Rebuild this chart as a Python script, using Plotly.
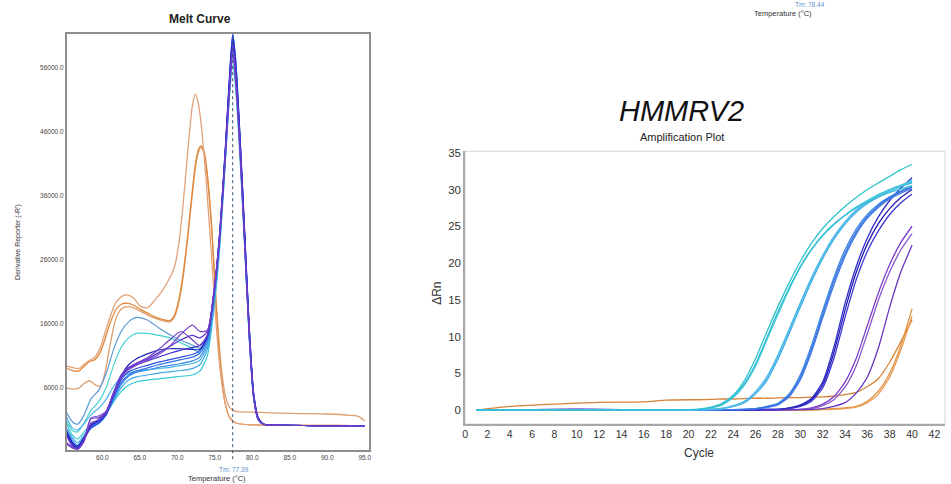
import plotly.graph_objects as go

# ---------------- Melt curve data ----------------
MELT_T = [55.2, 56.0, 56.7, 57.5, 58.5, 59.5, 60.5, 61.5, 62.5, 63.5, 64.5, 66.0, 67.5,
          69.0, 70.5, 72.0, 73.0, 74.0, 74.8, 75.6, 76.4, 77.0, 77.4, 77.8, 78.4, 79.0,
          79.6, 80.2, 80.8, 81.5, 83.0, 88.0, 95.0]

melt_turq_low = [500, -1400, -2000, -1000, 300, 900, 2000, 3800, 5400, 6400, 6900, 7200, 7400, 7600, 7800, 8000, 8600, 11000,
                 17500, 27000, 41000, 52000, 56500, 52500, 41000, 27500, 13500, 4200, 1000, 300, 150, 100, 80]
melt_steel_hump = [2200, 700, 300, 1600, 4300, 5600, 8200, 12000, 14800, 16300, 17000, 16600, 15400, 14300, 13400, 12700, 12200, 14200,
                   19500, 28500, 42500, 53500, 58500, 54000, 42500, 28500, 14500, 4500, 1100, 300, 150, 100, 80]
melt_turq_hump = [900, -700, -900, 400, 2500, 3800, 6000, 9500, 12300, 13800, 14500, 14500, 14200, 13800, 13000, 12200, 11500, 13500,
                  19000, 28500, 42000, 53000, 58000, 53500, 42000, 28000, 14000, 4300, 1000, 300, 150, 100, 80]
melt_sky = [1500, -300, -600, 300, 1800, 2800, 4200, 6200, 7600, 8300, 8600, 8800, 9000, 9200, 9500, 9800, 10300, 12500,
            18500, 28000, 42000, 53000, 59000, 54500, 42500, 28500, 14200, 4400, 1000, 300, 150, 100, 80]
melt_lightblue = [-200, -1800, -2600, -1500, 0, 700, 1900, 4000, 6000, 7200, 7700, 8000, 8300, 8500, 8700, 9000, 9600, 12000,
                  18000, 27500, 41500, 53000, 59500, 55000, 43000, 28500, 14000, 4300, 1000, 300, 150, 100, 80]
melt_blue1 = [-500, -2200, -3000, -1800, -200, 500, 1800, 4300, 6500, 7800, 8400, 8800, 9200, 9500, 9800, 10200, 10800, 13000,
              19000, 28500, 42500, 54500, 61000, 56500, 44000, 29500, 15000, 4800, 1200, 300, 150, 100, 80]
melt_blue2 = [-800, -2500, -3200, -2000, -300, 400, 1700, 4500, 6800, 8000, 8600, 9100, 9600, 10000, 10400, 10800, 11400, 13500,
              19500, 29000, 43000, 55000, 61300, 57000, 44500, 30000, 15500, 5000, 1300, 350, 150, 100, 80]
melt_blue3 = [-1000, -2700, -3300, -2100, -200, 500, 1800, 4700, 7200, 8500, 9000, 9500, 10000, 10400, 10800, 11200, 11800, 14000,
              20000, 29500, 43500, 55500, 61300, 57000, 44500, 30000, 15500, 5000, 1300, 350, 150, 100, 80]
melt_navy = [-800, -2600, -3100, -1900, 200, 900, 2200, 5200, 7800, 9600, 10500, 11300, 11900, 12100, 12100, 12000, 12000, 14000,
             20000, 29500, 43000, 55000, 60500, 56000, 44000, 29500, 15000, 4800, 1200, 300, 150, 100, 80]
melt_indigo = [-1200, -2900, -3400, -2200, 0, 800, 2000, 5000, 7600, 9000, 9600, 10200, 10800, 11400, 11900, 12300, 12600, 14200,
               20000, 29000, 43000, 54500, 60000, 55500, 43500, 29000, 14800, 4700, 1200, 300, 150, 100, 80]
melt_violet = [-1400, -3100, -3500, -2300, 1200, 1300, 2300, 5300, 8000, 9200, 9800, 10500, 11500, 12500, 13500, 14200, 13800, 14800,
               20000, 29000, 42500, 54000, 59500, 55000, 43000, 28800, 14500, 4500, 1100, 300, 150, 100, 80]
melt_purple_hump = [-2500, -3300, -3600, -2400, 1300, 1600, 2300, 5000, 7600, 8800, 9500, 10300, 11200, 12500, 14400, 15800, 14800, 15000,
                    20500, 29000, 42000, 53000, 58000, 53500, 42000, 28000, 14000, 4300, 1000, 300, 150, 100, 80]
melt_purple = [-2800, -3400, -3600, -2500, 500, 1000, 2100, 5100, 7800, 9100, 9800, 10700, 12000, 13500, 14800, 13500, 12600, 14200,
               20000, 28500, 42000, 53500, 59000, 54500, 42500, 28500, 14300, 4400, 1000, 300, 150, 100, 80]

MELT_BUNDLE = [
    (melt_turq_low, "#35C9D6"),
    (melt_steel_hump, "#5B9BD5"),
    (melt_turq_hump, "#45D0D0"),
    (melt_sky, "#4DB7E8"),
    (melt_lightblue, "#3FA9E6"),
    (melt_blue1, "#3A8AE8"),
    (melt_blue2, "#2F6EE6"),
    (melt_blue3, "#2A4FDF"),
    (melt_navy, "#1F24B5"),
    (melt_indigo, "#3A2CCF"),
    (melt_violet, "#5A35D0"),
    (melt_purple_hump, "#7B44CC"),
    (melt_purple, "#6B3BC8"),
]

ORANGE_T = [55.2, 56.0, 56.8, 57.6, 58.3, 59.0, 59.7, 60.4, 61.0, 61.8, 62.6, 63.4, 64.2, 65.0,
            66.0, 67.0, 68.0, 69.0, 69.6, 70.2, 70.8, 71.4, 72.0, 72.4, 72.8, 73.2, 73.6, 74.0,
            74.6, 75.2, 75.8, 76.4, 77.0, 77.8, 80.0, 85.0, 90.0, 93.0, 94.2, 95.0]

melt_orange_tall = [9400, 9200, 9000, 9700, 10300, 10800, 12200, 14800, 17000, 19300, 20300, 20500, 20000, 18800,
                    18500, 19700, 21200, 23200, 24800, 28500, 35000, 43000, 50000, 51900, 50500, 47000, 42000, 36000,
                    26000, 15500, 8000, 3500, 1400, 500, 200, 150, 120, 100, 100, 100]
melt_orange_mid = [9100, 8700, 8600, 9400, 10100, 10400, 11500, 13800, 16000, 18200, 19100, 19200, 18900, 18300,
                   17700, 17100, 16700, 16500, 17300, 19800, 24000, 30000, 36800, 40800, 43200, 43800, 42800, 39500,
                   31000, 18500, 8500, 3500, 1300, 500, 200, 150, 120, 100, 100, 100]
melt_orange_low = [6000, 5800, 5900, 6700, 7100, 6500, 6200, 8600, 12500, 16800, 18400, 18700, 18500, 18000,
                   17400, 16900, 16500, 16300, 17000, 19300, 23500, 29500, 36200, 40300, 42800, 43500, 42500, 39000,
                   30500, 19000, 10000, 4800, 2900, 2300, 2200, 2000, 1900, 1700, 1500, 800]

MELT_ORANGE = [
    (melt_orange_low, "#DDA070"),
    (melt_orange_mid, "#E0893A"),
    (melt_orange_tall, "#E4A27A"),
]

TM_VALUE = 77.39
MELT_XTICKS = [60, 65, 70, 75, 80, 85, 90, 95]
MELT_YTICKS = [6000, 16000, 26000, 36000, 46000, 56000]

# ---------------- Amplification data ----------------
AMP_CYCLES = [1, 4, 8, 12, 16, 18, 20, 21, 22, 23, 24, 25, 26, 27, 28, 29, 30,
              31, 32, 33, 34, 35, 36, 37, 38, 39, 40]

amp_cyan1 = [0, 0, 0, 0, 0, 0, 0.05, 0.15, 0.4, 0.9, 2.0, 4.0, 7.0, 10.6, 14.1, 17.3, 20.2, 22.7, 24.7, 26.3, 27.7, 28.9, 30.0, 30.9, 31.8, 32.7, 33.4]
amp_cyan2 = [0, 0, 0, 0, 0, 0, 0.05, 0.1, 0.3, 0.7, 1.7, 3.4, 6.0, 9.5, 13.0, 16.4, 19.4, 21.8, 23.7, 25.2, 26.5, 27.6, 28.5, 29.3, 30.0, 30.5, 31.0]
amp_cyan3 = [0, 0, 0, 0, 0, 0, 0.05, 0.1, 0.3, 0.8, 1.9, 3.6, 6.3, 9.8, 13.4, 16.6, 19.5, 21.9, 23.8, 25.3, 26.5, 27.5, 28.3, 29.0, 29.6, 30.1, 30.5]
amp_lblue1 = [0, 0, 0, 0, 0, 0, 0, 0.05, 0.1, 0.25, 0.6, 1.2, 2.5, 4.5, 7.5, 11.0, 14.6, 18.0, 21.0, 23.6, 25.6, 27.2, 28.4, 29.3, 30.0, 30.6, 31.1]
amp_lblue2 = [0, 0, 0, 0, 0, 0, 0, 0.05, 0.1, 0.2, 0.5, 1.0, 2.2, 4.0, 6.9, 10.4, 14.0, 17.5, 20.6, 23.2, 25.3, 26.9, 28.1, 29.0, 29.8, 30.4, 30.9]
amp_lblue3 = [0, 0, 0, 0, 0, 0, 0, 0.05, 0.1, 0.2, 0.5, 1.1, 2.3, 4.2, 7.2, 10.7, 14.3, 17.8, 20.8, 23.4, 25.4, 27.0, 28.2, 29.1, 29.9, 30.5, 31.3]
amp_blue1 = [0, 0, 0, 0, 0, 0, 0, 0, 0, 0.05, 0.05, 0.1, 0.2, 0.5, 0.9, 2.2, 4.8, 8.8, 13.5, 18.0, 21.8, 24.6, 26.6, 28.0, 29.0, 29.8, 30.5]
amp_blue2 = [0, 0, 0, 0, 0, 0, 0, 0, 0, 0.05, 0.05, 0.1, 0.2, 0.4, 0.8, 2.0, 4.4, 8.3, 13.0, 17.5, 21.3, 24.2, 26.3, 27.8, 28.9, 29.7, 30.3]
amp_blue3 = [0, 0, 0, 0, 0, 0, 0, 0, 0, 0.05, 0.05, 0.1, 0.15, 0.35, 0.7, 1.8, 4.1, 7.9, 12.5, 17.0, 20.9, 23.9, 26.1, 27.6, 28.7, 29.5, 30.1]
amp_indigo1 = [0, 0, 0, 0, 0, 0, 0, 0, 0, 0, 0, 0.05, 0.05, 0.1, 0.1, 0.3, 0.7, 1.6, 3.8, 8.5, 14.5, 19.5, 23.4, 26.3, 28.5, 30.2, 31.6]
amp_indigo2 = [0, 0, 0, 0, 0, 0, 0, 0, 0, 0, 0, 0.05, 0.05, 0.1, 0.1, 0.25, 0.6, 1.4, 3.4, 7.8, 13.6, 18.7, 22.6, 25.4, 27.4, 28.9, 30.0]
amp_indigo3 = [0, 0, 0, 0, 0, 0, 0, 0, 0, 0, 0, 0, 0.05, 0.05, 0.1, 0.2, 0.5, 1.2, 3.0, 7.0, 12.6, 17.7, 21.6, 24.4, 26.6, 28.2, 29.4]
amp_purple1 = [0, 0, 0.1, 0.1, 0, 0, 0, 0, 0, 0, 0, 0, 0, 0, 0.05, 0.05, 0.1, 0.3, 0.8, 1.8, 3.8, 7.0, 11.5, 16.0, 19.8, 22.8, 25.0]
amp_purple2 = [0, 0, 0.1, 0.1, 0, 0, 0, 0, 0, 0, 0, 0, 0, 0, 0.05, 0.05, 0.1, 0.2, 0.6, 1.4, 3.1, 6.0, 10.4, 15.0, 18.8, 21.8, 24.0]
amp_purple3 = [0, 0, 0.05, 0.05, 0, 0, 0, 0, 0, 0, 0, 0, 0, 0, 0, 0.05, 0.05, 0.1, 0.2, 0.5, 1.0, 2.3, 4.5, 8.5, 14.0, 18.8, 22.4]
amp_orange_drift = [0, 0.5, 0.8, 1.05, 1.1, 1.35, 1.4, 1.4, 1.45, 1.5, 1.5, 1.55, 1.6, 1.6, 1.65, 1.7, 1.7, 1.75, 1.8, 1.9, 2.1, 2.4, 3.2, 4.3, 6.5, 9.3, 12.3]
amp_orange2 = [0, 0, 0, 0, 0, 0, 0, 0, 0, 0, 0, 0, 0, 0, 0, 0, 0, 0.05, 0.1, 0.2, 0.3, 0.5, 1.2, 2.6, 5.0, 8.8, 13.8]
amp_orange3 = [0, 0, 0, 0, 0, 0, 0, 0, 0, 0, 0, 0, 0, 0, 0, 0, 0, 0, 0.05, 0.1, 0.2, 0.4, 1.0, 2.2, 4.5, 8.2, 12.8]

AMP_SERIES = [
    (amp_orange_drift, "#D7843A"),
    (amp_orange2, "#E0923E"),
    (amp_orange3, "#E89A50"),
    (amp_purple1, "#7B3CC9"),
    (amp_purple2, "#8B55CC"),
    (amp_purple3, "#6A34C2"),
    (amp_indigo1, "#2C2FC9"),
    (amp_indigo2, "#2418AE"),
    (amp_indigo3, "#3A36D0"),
    (amp_blue1, "#3A86E2"),
    (amp_blue2, "#3570DC"),
    (amp_blue3, "#3F7AE6"),
    (amp_lblue1, "#45B3E6"),
    (amp_lblue2, "#3AA6E2"),
    (amp_lblue3, "#58BEE8"),
    (amp_cyan1, "#2EC4C8"),
    (amp_cyan2, "#3CCBD6"),
    (amp_cyan3, "#35BBD8"),
]

AMP_XTICKS = list(range(0, 43, 2))
AMP_YTICKS = [0, 5, 10, 15, 20, 25, 30, 35]

# ---------------- Figure ----------------
W, H = 951, 484


def px(x):
    return x / W


def py(y):
    return 1 - y / H


fig = go.Figure()

for vals, col in MELT_ORANGE:
    fig.add_trace(go.Scatter(x=ORANGE_T, y=vals, mode="lines", xaxis="x", yaxis="y",
                             line=dict(color=col, width=1.3, shape="spline", smoothing=0.7),
                             hoverinfo="skip", showlegend=False))
for vals, col in MELT_BUNDLE:
    fig.add_trace(go.Scatter(x=MELT_T, y=vals, mode="lines", xaxis="x", yaxis="y",
                             line=dict(color=col, width=1.2, shape="spline", smoothing=0.7),
                             hoverinfo="skip", showlegend=False))

for vals, col in AMP_SERIES:
    fig.add_trace(go.Scatter(x=AMP_CYCLES, y=vals, mode="lines", xaxis="x2", yaxis="y2",
                             line=dict(color=col, width=1.3, shape="spline", smoothing=0.6),
                             hoverinfo="skip", showlegend=False))

font_family = "Liberation Sans, Arial, sans-serif"

fig.update_layout(
    width=W, height=H,
    margin=dict(l=0, r=0, t=0, b=0),
    paper_bgcolor="white", plot_bgcolor="white",
    font=dict(family=font_family, color="#333333"),
    xaxis=dict(domain=[px(64), px(368)], range=[55.23, 95.53], anchor="y",
               tickvals=MELT_XTICKS, ticktext=[f"{v:.1f}" for v in MELT_XTICKS],
               tickfont=dict(size=6.5, color="#444444"), ticks="", showgrid=False, zeroline=False,
               showline=True, linecolor="#8E8E8E", linewidth=1.5, mirror=True),
    yaxis=dict(domain=[py(450), py(30)], range=[-3770, 61350], anchor="x",
               tickvals=MELT_YTICKS, ticktext=[f"{v:.1f}" for v in MELT_YTICKS],
               tickfont=dict(size=6.5, color="#444444"), ticks="", showgrid=False, zeroline=False,
               showline=True, linecolor="#8E8E8E", linewidth=1.5, mirror=True),
    xaxis2=dict(domain=[px(465), px(948)], range=[0, 42.95], anchor="y2",
                tickvals=AMP_XTICKS, tickfont=dict(size=10.5, color="#333333"), ticks="",
                showgrid=False, zeroline=False, showline=True, linecolor="#A8A8A8", linewidth=1.5),
    yaxis2=dict(domain=[py(423.5), py(148.5)], range=[-1.9, 35.2], anchor="x2",
                tickvals=AMP_YTICKS, tickfont=dict(size=11.5, color="#333333"), ticks="",
                showgrid=False, zeroline=False, showline=True, linecolor="#A8A8A8", linewidth=1.5),
)

# Tm marker line on the melt curve
fig.add_shape(type="line", xref="x", yref="paper", x0=TM_VALUE, x1=TM_VALUE,
              y0=py(459), y1=py(30), line=dict(color="#34506E", width=1, dash="dot"))

# light frame on top/right of the amplification plot
fig.add_shape(type="rect", xref="paper", yref="paper", x0=px(465), x1=px(948),
              y0=py(423.5), y1=py(148.5), line=dict(color="#D6D6D6", width=1), layer="below")

ann = [
    dict(text="<b>Melt Curve</b>", x=px(198), y=py(15), font=dict(size=12, color="#222222")),
    dict(text="Derivative Reporter (-R')", x=px(15), y=py(240), textangle=-90,
         font=dict(size=7, color="#333333")),
    dict(text="Temperature (°C)", x=px(215), y=py(478), font=dict(size=7.5, color="#333333")),
    dict(text="Tm: 77.39", x=px(232), y=py(469), font=dict(size=6.5, color="#5A8FD0")),
    dict(text="Tm: 78.44", x=px(812), y=py(0.5), font=dict(size=6.5, color="#5A8FD0")),
    dict(text="Temperature (°C)", x=px(785), y=py(9.5), font=dict(size=7.5, color="#333333")),
    dict(text="<i>HMMRV2</i>", x=px(683), y=py(108), font=dict(size=29, color="#111111")),
    dict(text="Amplification Plot", x=px(683), y=py(134), font=dict(size=11, color="#222222")),
    dict(text="Cycle", x=px(700), y=py(453), font=dict(size=12, color="#333333")),
    dict(text="ΔRn", x=px(436), y=py(292), textangle=-90, font=dict(size=12, color="#333333")),
]
for a in ann:
    fig.add_annotation(xref="paper", yref="paper", showarrow=False,
                       xanchor="center", yanchor="middle", **a)

fig.write_html("out.html")
